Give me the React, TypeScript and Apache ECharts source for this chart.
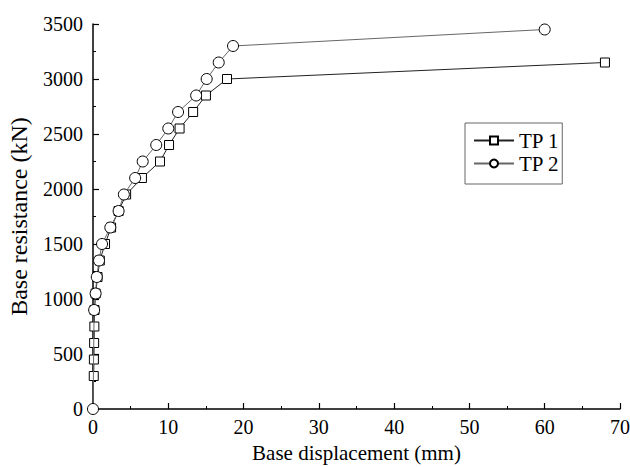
import React, { useEffect, useRef } from "react";
import * as echarts from "echarts";

const tp1Disp = [0.1, 0.12, 0.15, 0.18, 0.2, 0.35, 0.6, 0.9, 1.6, 2.4, 3.4, 4.4, 6.5, 8.9, 10.1, 11.5, 13.3, 15, 17.8, 68];
const tp1Load = [300, 450, 600, 750, 900, 1050, 1200, 1350, 1500, 1650, 1800, 1950, 2100, 2250, 2400, 2550, 2700, 2850, 3000, 3150];
const tp2Disp = [0, 0.15, 0.35, 0.5, 0.8, 1.2, 2.3, 3.4, 4.1, 5.6, 6.6, 8.4, 10, 11.3, 13.7, 15.1, 16.7, 18.6, 60];
const tp2Load = [0, 900, 1050, 1200, 1350, 1500, 1650, 1800, 1950, 2100, 2250, 2400, 2550, 2700, 2850, 3000, 3150, 3300, 3450];
const xTicks = { min: 0, max: 70, interval: 10 };
const yTicks = { min: 0, max: 3500, interval: 500 };

const FONT = "Liberation Serif";

export default function App() {
  const ref = useRef<HTMLDivElement>(null);
  useEffect(() => {
    document.body.style.margin = "0";
    if (!ref.current) return;
    const chart = echarts.init(ref.current, undefined, { renderer: "svg" });
    const axisCommon = {
      axisLine: { show: true, lineStyle: { color: "#000", width: 1.5 } },
      axisTick: { show: true, inside: true, length: 6, lineStyle: { color: "#000", width: 1.2 } },
      minorTick: { show: true, splitNumber: 2, length: 3, lineStyle: { color: "#000", width: 1 } },
      splitLine: { show: false },
      axisLabel: { color: "#000", fontFamily: FONT, fontSize: 20, formatter: (v: number) => String(v) },
    };
    chart.setOption({
      animation: false,
      backgroundColor: "#fff",
      grid: { left: 93, right: 10, top: 24, bottom: 58, containLabel: false, outerBoundsMode: "none" },
      legend: {
        orient: "vertical",
        left: 465,
        top: 123,
        itemWidth: 40,
        itemHeight: 10,
        itemGap: 2,
        borderColor: "#666",
        borderWidth: 1,
        padding: [7, 3, 10, 8],
        textStyle: { color: "#000", fontFamily: FONT, fontSize: 21 },
        data: ["TP 1", "TP 2"],
      },
      xAxis: {
        type: "value",
        ...xTicks,
        name: "Base displacement (mm)",
        nameLocation: "middle",
        nameGap: 33,
        ...axisCommon,
        nameTextStyle: { color: "#000", fontFamily: FONT, fontSize: 21, lineHeight: 22 },
        axisLabel: { ...axisCommon.axisLabel, margin: 8 },
      },
      yAxis: {
        type: "value",
        ...yTicks,
        name: "Base resistance (kN)",
        nameLocation: "middle",
        nameGap: 62,
        ...axisCommon,
        nameTextStyle: { color: "#000", fontFamily: FONT, fontSize: 24 },
        axisLabel: { ...axisCommon.axisLabel, margin: 10 },
      },
      series: [
        {
          name: "TP 1",
          type: "line",
          data: tp1Disp.map((d, i) => [d, tp1Load[i]]),
          symbol: "rect",
          symbolSize: 9,
          showAllSymbol: true,
          lineStyle: { color: "#222", width: 1 },
          itemStyle: { color: "#fff", borderColor: "#000", borderWidth: 1 },
          z: 3,
        },
        {
          name: "TP 2",
          type: "line",
          data: tp2Disp.map((d, i) => [d, tp2Load[i]]),
          symbol: "circle",
          symbolSize: 11,
          showAllSymbol: true,
          lineStyle: { color: "#666", width: 1 },
          itemStyle: { color: "#fff", borderColor: "#000", borderWidth: 1 },
          z: 4,
        },
      ],
    });
    return () => chart.dispose();
  }, []);
  return <div ref={ref} style={{ width: 630, height: 467 }} />;
}
